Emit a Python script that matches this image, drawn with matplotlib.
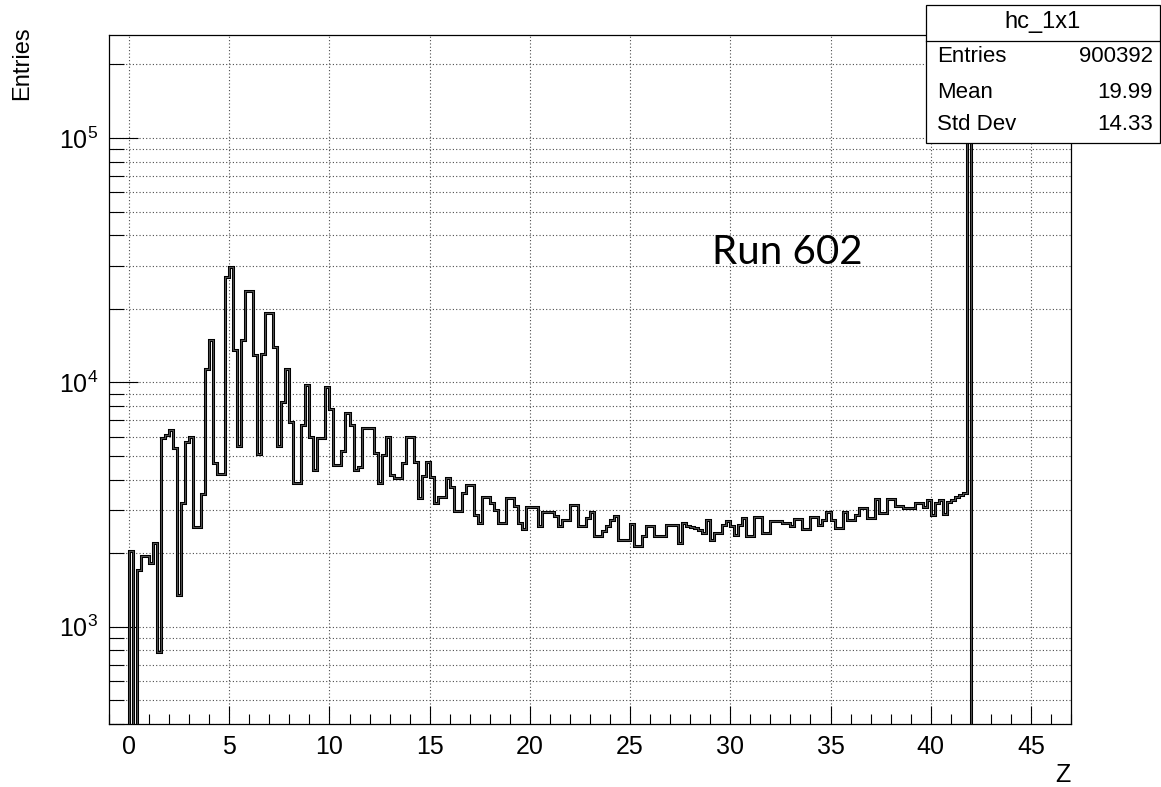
import matplotlib
matplotlib.use("Agg")
import matplotlib.pyplot as plt
import numpy as np
from matplotlib.ticker import MultipleLocator, LogLocator, FuncFormatter, NullFormatter
from matplotlib.patches import Rectangle

# histogram hc_1x1 : 240 bins of 0.2 between Z=-1 and Z=47
z_low, z_high, bin_width = -1.0, 47.0, 0.2
first_filled = 0.0  # low edge of the first bin listed in counts

counts = [
    2050, 0, 1700, 1940, 1940, 1830, 2210, 790, 5900, 6100,
    6400, 5400, 1350, 3200, 5700, 6000, 2550, 2550, 3500, 11300,
    14900, 4700, 4200, 4200, 27000, 29800, 13600, 5500, 14900, 23700,
    23700, 13000, 5100, 13100, 19300, 19300, 14000, 5500, 8350, 11300,
    6900, 3870, 3870, 6700, 9800, 6000, 4400, 5900, 5900, 9600,
    7800, 4600, 4600, 5260, 7500, 6700, 4360, 4500, 6500, 6500,
    6500, 5160, 3870, 5050, 6000, 4190, 4060, 4060, 4670, 5970,
    5970, 4740, 3360, 4120, 4740, 4100, 3200, 3410, 3410, 4060,
    3730, 2990, 2990, 3520, 3810, 3810, 2870, 2670, 3390, 3390,
    3220, 3010, 2670, 2670, 3360, 3360, 3130, 2670, 2510, 3100,
    3100, 3100, 2590, 2960, 2960, 2960, 2850, 2590, 2740, 2740,
    3160, 3160, 2590, 2590, 2790, 2940, 2360, 2360, 2460, 2580,
    2740, 2830, 2260, 2260, 2260, 2630, 2150, 2150, 2360, 2580,
    2580, 2350, 2350, 2350, 2600, 2600, 2600, 2200, 2650, 2580,
    2560, 2540, 2500, 2430, 2740, 2260, 2410, 2410, 2600, 2700,
    2580, 2380, 2600, 2790, 2350, 2350, 2800, 2800, 2430, 2430,
    2720, 2720, 2720, 2650, 2650, 2580, 2770, 2770, 2510, 2510,
    2810, 2810, 2600, 2740, 2960, 2740, 2540, 2540, 2960, 2740,
    2740, 2870, 3050, 3050, 2790, 2790, 3330, 2920, 2920, 3330,
    3330, 3130, 3130, 3060, 3060, 3060, 3200, 3220, 3100, 3300,
    2870, 3220, 3300, 2900, 3250, 3300, 3400, 3450, 3530, 160000,
]

stat_labels = ["Entries", "Mean", "Std Dev"]
stat_values = ["900392", "19.99", "14.33"]
hist_name = "hc_1x1"
y_range = (400, 2.64e5)

plt.rcParams['font.family'] = ['Liberation Sans', 'DejaVu Sans']

W, H = 1161, 787
fig = plt.figure(figsize=(W / 100, H / 100), dpi=100)
ax = fig.add_axes([109 / W, 1 - 724 / H, (1071 - 109) / W, (724 - 35) / H])

# full set of bins, empty outside the listed ones
n_bins = int(round((z_high - z_low) / bin_width))
edges = z_low + bin_width * np.arange(n_bins + 1)
full = np.zeros(n_bins)
start = int(round((first_filled - z_low) / bin_width))
full[start:start + len(counts)] = counts
drawn = np.where(full > 0, full, 1.0)  # empty bins fall below the axis

ax.stairs(drawn, edges, baseline=1.0, color='black', lw=2.2, zorder=3)
ax.stairs(drawn, edges, baseline=1.0, color='#8c8c8c', lw=0.4, zorder=4)

ax.set_yscale('log')
ax.set_xlim(z_low, z_high)
ax.set_ylim(*y_range)

ax.xaxis.set_major_locator(MultipleLocator(5))
ax.xaxis.set_minor_locator(MultipleLocator(1))
ax.yaxis.set_major_locator(LogLocator(base=10))
ax.yaxis.set_minor_locator(LogLocator(base=10, subs=np.arange(2, 10)))
ax.yaxis.set_major_formatter(FuncFormatter(
    lambda v, p: r'$\mathregular{10^{%d}}$' % int(round(np.log10(v)))))
ax.yaxis.set_minor_formatter(NullFormatter())
ax.xaxis.set_major_formatter(FuncFormatter(lambda v, p: '%d' % v))

ax.tick_params(which='both', direction='in', top=False, right=False,
               labelsize=18, colors='black', width=0.8)
ax.tick_params(axis='y', which='major', length=21, pad=8)
ax.tick_params(axis='y', which='minor', length=11)
ax.tick_params(axis='x', which='major', length=13, pad=8)
ax.tick_params(axis='x', which='minor', length=7)

grid_style = dict(color='0.3', lw=0.8, linestyle=(0, (1, 2)))
ax.grid(True, axis='x', which='major', **grid_style)
ax.grid(True, axis='y', which='both', **grid_style)
ax.set_axisbelow(True)
for s in ax.spines.values():
    s.set_linewidth(0.9)

# axis titles, ROOT style
fig.text(22 / W, 1 - 26 / H, 'Entries', rotation=90, ha='center', va='top', fontsize=17)
fig.text(1071 / W, 1 - 775 / H, 'Z', ha='right', va='center', fontsize=18)

# annotation
fig.text(712 / W, 1 - 264 / H, 'Run 602', fontsize=29, family=['Lato', 'DejaVu Sans'],
         ha='left', va='baseline')

# stats box
bx0, bx1, by0, by1, bsep = 926, 1160, 5, 143, 41
fig.patches.append(Rectangle((bx0 / W, 1 - by1 / H), (bx1 - bx0) / W, (by1 - by0) / H,
                             transform=fig.transFigure, facecolor='white',
                             edgecolor='black', lw=0.9, zorder=10))
fig.lines.append(plt.Line2D([bx0 / W, bx1 / W], [1 - bsep / H, 1 - bsep / H],
                            transform=fig.transFigure, color='black', lw=0.9, zorder=11))
fig.text((bx0 + bx1) / 2 / W, 1 - 22 / H, hist_name, ha='center', va='center',
         fontsize=17, zorder=12)
row_y = [57, 92, 125]
for lab, val, yy in zip(stat_labels, stat_values, row_y):
    fig.text(937 / W, 1 - yy / H, lab, ha='left', va='center', fontsize=16, zorder=12)
    fig.text(1153 / W, 1 - yy / H, val, ha='right', va='center', fontsize=16, zorder=12)

fig.savefig('out.png', dpi=100)
